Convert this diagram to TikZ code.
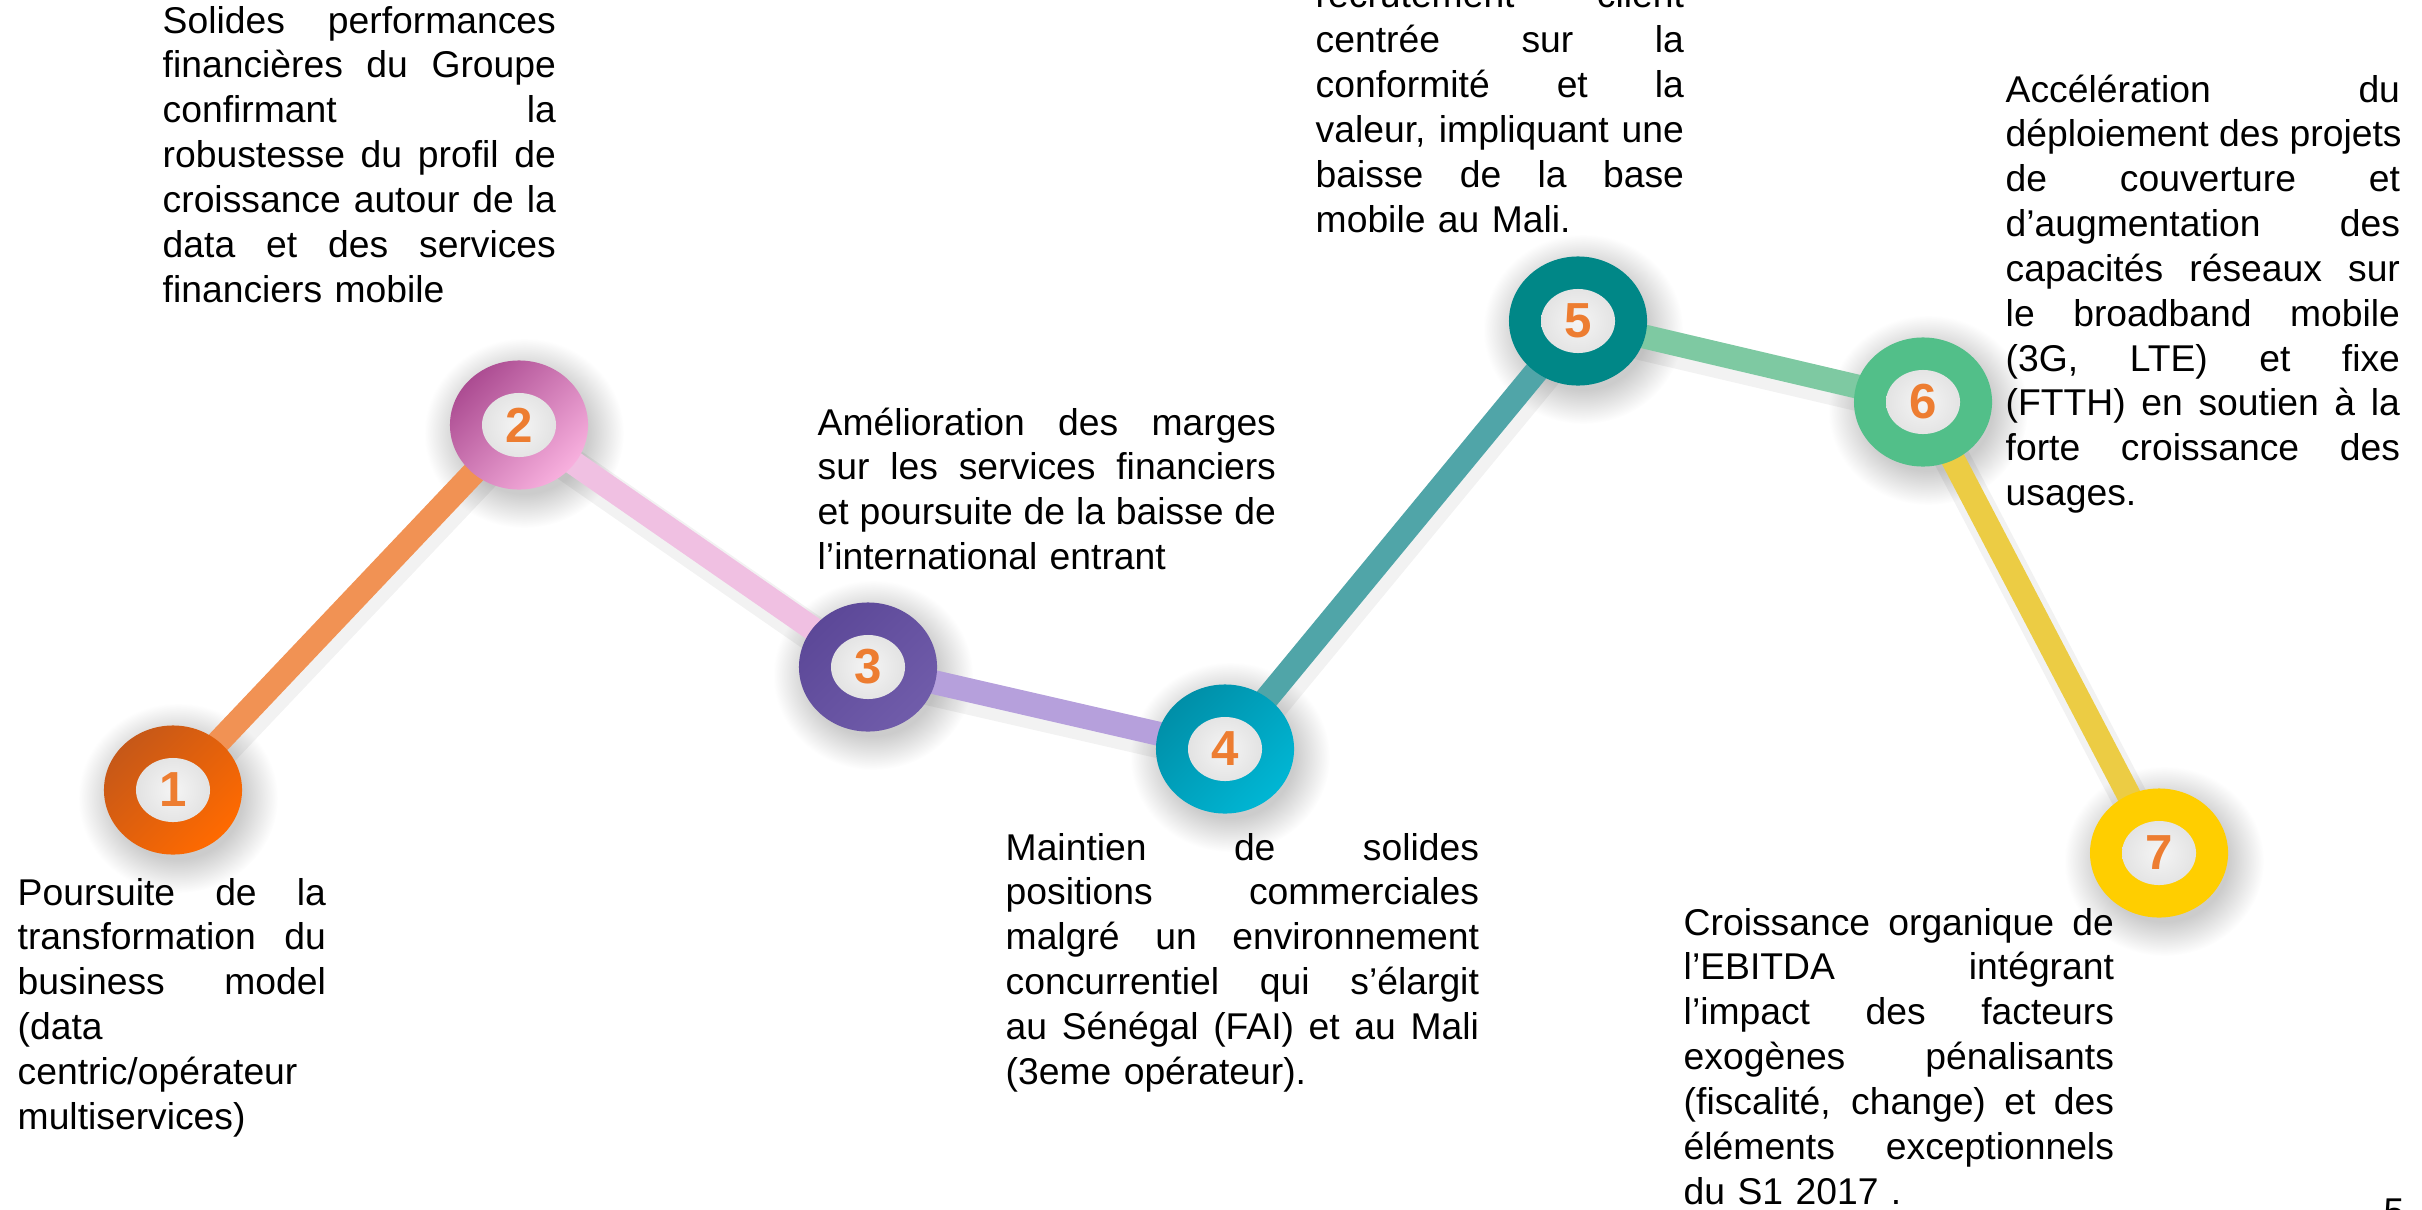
\documentclass[tikz,border=0pt]{standalone}
\usepackage{fontspec}
\setmainfont{Liberation Sans}
\usepackage{tikz}
\usetikzlibrary{shapes.geometric}
\pgfdeclarelayer{halo}
\pgfdeclarelayer{back}
\pgfsetlayers{halo,back,main}
\pgfdeclareradialshading{haloshade}{\pgfpoint{0bp}{0bp}}{color(0bp)=(black!20); color(16bp)=(black!20); color(25bp)=(white); color(50bp)=(white)}

\definecolor{numorange}{RGB}{237,125,49}
\definecolor{ringAa}{RGB}{198,88,24}
\definecolor{ringAb}{RGB}{255,106,0}
\definecolor{ringBa}{RGB}{172,76,146}
\definecolor{ringBb}{RGB}{248,176,222}
\definecolor{ringCa}{RGB}{92,72,152}
\definecolor{ringCb}{RGB}{112,92,170}
\definecolor{ringDa}{RGB}{0,143,168}
\definecolor{ringDb}{RGB}{0,182,212}
\definecolor{ringE}{RGB}{0,135,135}
\definecolor{ringF}{RGB}{82,191,137}
\definecolor{ringG}{RGB}{255,206,0}
\definecolor{bandAB}{RGB}{241,146,84}
\definecolor{bandBC}{RGB}{240,192,226}
\definecolor{bandCD}{RGB}{182,160,220}
\definecolor{bandDE}{RGB}{80,165,168}
\definecolor{bandEF}{RGB}{126,201,162}
\definecolor{bandFG}{RGB}{236,204,68}

% one justified line of a text block
\newcommand{\jl}[1]{\leavevmode\hbox to \hsize{\spaceskip=0.28em plus 10em\relax #1}}

\begin{document}
\begin{tikzpicture}[x=0.01cm, y=-0.01cm,
    ring/.style={ellipse, minimum width=1.38cm, minimum height=1.29cm, inner sep=0pt,
        font=\fontsize{14}{14}\selectfont\bfseries, text=numorange,
        path picture={\shade[inner color=black!4, outer color=black!17]
            (path picture bounding box.center) ellipse [x radius=0.37cm, y radius=0.32cm];}},
    band/.style={line width=0.24cm},
    bandshadow/.style={line width=0.36cm, black, opacity=0.05},
    txt/.style={anchor=base west, inner sep=0pt, align=left,
        font=\fontsize{10.6}{12.75}\selectfont}]
\useasboundingbox (0,0) rectangle (2422,1209);
\clip (0,0) rectangle (2422,1209);

% milestones
\node[ring, top color=ringAa, bottom color=ringAb, shading angle=45] (n1) at (173,790) {1};
\node[ring, top color=ringBa, bottom color=ringBb, shading angle=45] (n2) at (519,425) {2};
\node[ring, top color=ringCa, bottom color=ringCb, shading angle=45] (n3) at (868,667) {3};
\node[ring, top color=ringDa, bottom color=ringDb, shading angle=45] (n4) at (1225,749) {4};
\node[ring, fill=ringE] (n5) at (1578,321) {5};
\node[ring, fill=ringF] (n6) at (1923,402) {6};
\node[ring, fill=ringG] (n7) at (2159,853) {7};

\begin{pgfonlayer}{halo}
\foreach \n in {n1,n2,n3,n4,n5,n6,n7}
    \shade[shading=haloshade] ([shift={(5,8)}]\n.center) ellipse [x radius=1cm, y radius=0.95cm];
\end{pgfonlayer}

% connectors
\begin{pgfonlayer}{back}
\foreach \a/\b in {n1/n2,n2/n3,n3/n4,n4/n5,n5/n6,n6/n7}
    \draw[bandshadow] ([shift={(3,7)}]\a.center) -- ([shift={(3,7)}]\b.center);
\draw[band, bandAB] (n1.center) -- (n2.center);
\draw[band, bandBC] (n2.center) -- (n3.center);
\draw[band, bandCD] (n3.center) -- (n4.center);
\draw[band, bandDE] (n4.center) -- (n5.center);
\draw[band, bandEF] (n5.center) -- (n6.center);
\draw[band, bandFG] (n6.center) -- (n7.center);
\end{pgfonlayer}

% texts
\node[txt, text width=3.08cm] (t1) at (17,905) {\jl{Poursuite de la}\\ \jl{transformation du}\\
    \jl{business model}\\ (data\\ centric/opérateur\\ multiservices)};
\node[txt, text width=3.93cm] (t2) at (162,33) {\jl{Solides performances}\\ \jl{financières du Groupe}\\
    \jl{confirmant la}\\ \jl{robustesse du profil de}\\ \jl{croissance autour de la}\\
    \jl{data et des services}\\ financiers mobile};
\node[txt, text width=4.58cm] (t3) at (817,435) {\jl{Amélioration des marges}\\ \jl{sur les services financiers}\\
    \jl{et poursuite de la baisse de}\\ l’international entrant};
\node[txt, text width=4.73cm] (t4) at (1005,860) {\jl{Maintien de solides}\\ \jl{positions commerciales}\\
    \jl{malgré un environnement}\\ \jl{concurrentiel qui s’élargit}\\ \jl{au Sénégal (FAI) et au Mali}\\
    (3eme opérateur).};
\node[txt, text width=3.68cm] (t5) at (1315,8) {\jl{recrutement client}\\ \jl{centrée sur la}\\
    \jl{conformité et la}\\ \jl{valeur, impliquant une}\\ \jl{baisse de la base}\\ mobile au Mali.};
\node[txt, text width=3.94cm] (t6) at (2005,102) {\jl{Accélération du}\\ \jl{déploiement des projets}\\
    \jl{de couverture et}\\ \jl{d’augmentation des}\\ \jl{capacités réseaux sur}\\
    \jl{le broadband mobile}\\ \jl{(3G, LTE) et fixe}\\ \jl{(FTTH) en soutien à la}\\
    \jl{forte croissance des}\\ usages.};
\node[txt, text width=4.30cm] (t7) at (1683,935) {\jl{Croissance organique de}\\ \jl{l’EBITDA intégrant}\\
    \jl{l’impact des facteurs}\\ \jl{exogènes pénalisants}\\ \jl{(fiscalité, change) et des}\\
    \jl{éléments exceptionnels}\\ du S1 2017 .};
\node[txt] (page) at (2383,1224) {5};
\end{tikzpicture}
\end{document}
